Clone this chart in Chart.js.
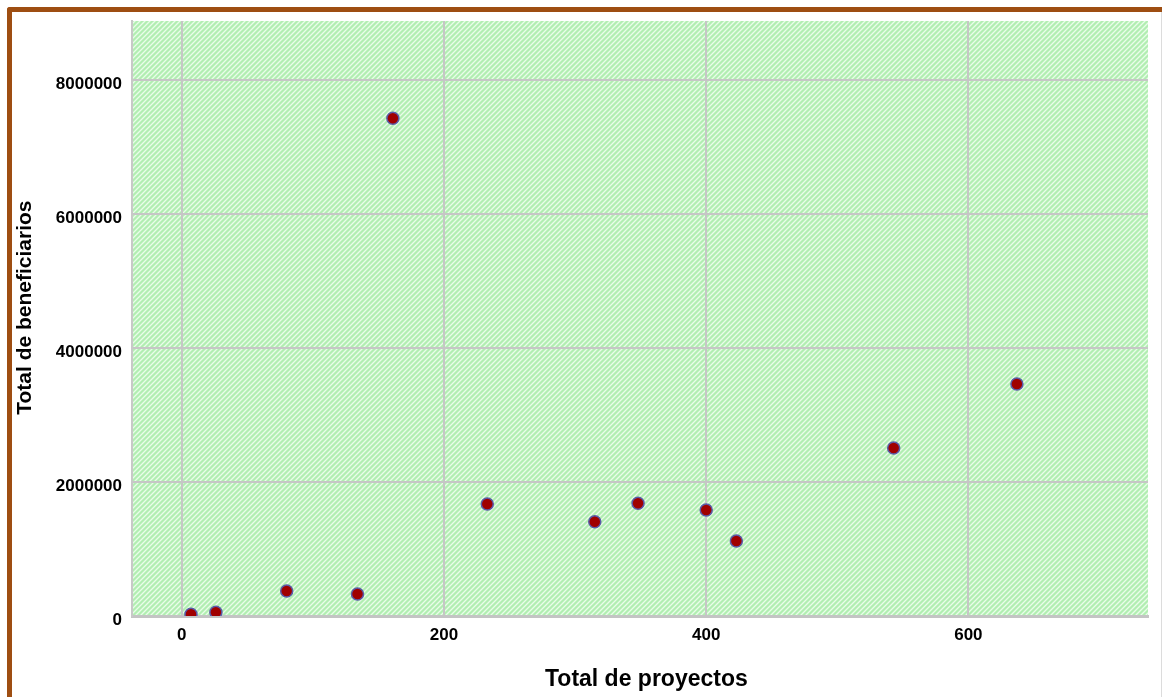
<!DOCTYPE html>
<html>
<head>
<meta charset="utf-8">
<script src="https://cdn.jsdelivr.net/npm/chart.js@4/dist/chart.umd.min.js"></script>
<style>
  html, body { margin: 0; padding: 0; background: #ffffff; overflow: hidden; }
  #wrap { position: relative; width: 1162px; height: 697px; }
  #c { position: absolute; left: 0; top: 0; }
  #frame { position: absolute; left: 7px; top: 7px; width: 1200px; height: 720px;
           border-left: 5px solid #9E4E12; border-top: 5px solid #9E4E12;
           border-top-left-radius: 3px; pointer-events: none; }
  #rightline { position: absolute; left: 1161px; top: 12px; width: 1px; height: 685px; background: #dcdcdc; }
</style>
</head>
<body>
<div id="wrap">
  <canvas id="c" width="1162" height="697"></canvas>
  <div id="frame"></div>
  <div id="rightline"></div>
</div>
<script>
// ---- data ----
const proyectos     = [7, 26, 80, 134, 161, 233, 315, 348, 400, 423, 543, 637];
const beneficiarios = [25000, 55000, 373000, 328000, 7428000, 1672000, 1407000, 1682000, 1582000, 1119000, 2507000, 3463000];
const xTicks = [0, 200, 400, 600];
const yTicks = [0, 2000000, 4000000, 6000000, 8000000];
const xTitle = '\u00A0\u00A0Total de proyectos';
const yTitle = '\u00A0\u00A0\u00A0\u2009Total de beneficiarios';

const points = proyectos.map((x, i) => ({ x: x, y: beneficiarios[i] }));

// hatched green background pattern
function makePattern(ctx) {
  const n = 5;
  const t = document.createElement('canvas');
  t.width = n; t.height = n;
  const tc = t.getContext('2d');
  const img = tc.createImageData(n, n);
  for (let y = 0; y < n; y++) {
    for (let x = 0; x < n; x++) {
      const k = (x + y) % n;
      let c;
      if (k === 0) c = [234, 252, 234];
      else if (k === 1 || k === 4) c = [202, 245, 202];
      else c = [178, 238, 178];
      const o = (y * n + x) * 4;
      img.data[o] = c[0]; img.data[o + 1] = c[1]; img.data[o + 2] = c[2]; img.data[o + 3] = 255;
    }
  }
  tc.putImageData(img, 0, 0);
  return ctx.createPattern(t, 'repeat');
}

const bgPlugin = {
  id: 'hatchBg',
  beforeDraw(chart) {
    const { ctx, chartArea: a } = chart;
    ctx.save();
    ctx.fillStyle = makePattern(ctx);
    ctx.fillRect(a.left, a.top, a.right - a.left, a.bottom - a.top);
    ctx.restore();
  }
};

const tickFont = { family: 'Arial, "Liberation Sans", sans-serif', size: 17, weight: 'bold' };

new Chart(document.getElementById('c'), {
  type: 'scatter',
  data: {
    datasets: [{
      data: points,
      backgroundColor: '#A00000',
      borderColor: '#5A5AA8',
      borderWidth: 1.5,
      pointRadius: 6,
      pointHoverRadius: 6,
      clip: 0
    }]
  },
  options: {
    responsive: false,
    devicePixelRatio: 1,
    animation: false,
    events: [],
    layout: { padding: { top: 21, right: 14, left: 0, bottom: 0 } },
    plugins: { legend: { display: false }, tooltip: { enabled: false } },
    scales: {
      x: {
        type: 'linear',
        min: -38,
        max: 737,
        afterBuildTicks(scale) { scale.ticks = xTicks.map(v => ({ value: v })); },
        afterFit(scale) { scale.height = 81; },
        ticks: { font: tickFont, color: '#000000', padding: 9, includeBounds: false, maxRotation: 0 },
        grid: { color: '#c6c6c6', lineWidth: 2, drawTicks: false },
        border: { display: true, color: '#c4c4c4', width: 3 },
        title: {
          display: true, text: xTitle, color: '#000000',
          font: { family: 'Arial, "Liberation Sans", sans-serif', size: 23, weight: 'bold' },
          padding: { top: 0, bottom: 4 }
        }
      },
      y: {
        type: 'linear',
        min: 0,
        max: 8880000,
        afterBuildTicks(scale) { scale.ticks = yTicks.map(v => ({ value: v })); },
        afterFit(scale) { scale.width = 132; },
        ticks: { font: tickFont, color: '#000000', padding: 10, labelOffset: 4, includeBounds: false,
                 callback: v => String(v) },
        grid: { color: '#c6c6c6', lineWidth: 2, drawTicks: false },
        border: { display: true, color: '#c8c8c8', width: 2 },
        title: {
          display: true, text: yTitle, color: '#000000',
          font: { family: 'Arial, "Liberation Sans", sans-serif', size: 21, weight: 'bold' },
          padding: { top: 13, bottom: 0 }
        }
      }
    }
  },
  plugins: [bgPlugin]
});
</script>
</body>
</html>
